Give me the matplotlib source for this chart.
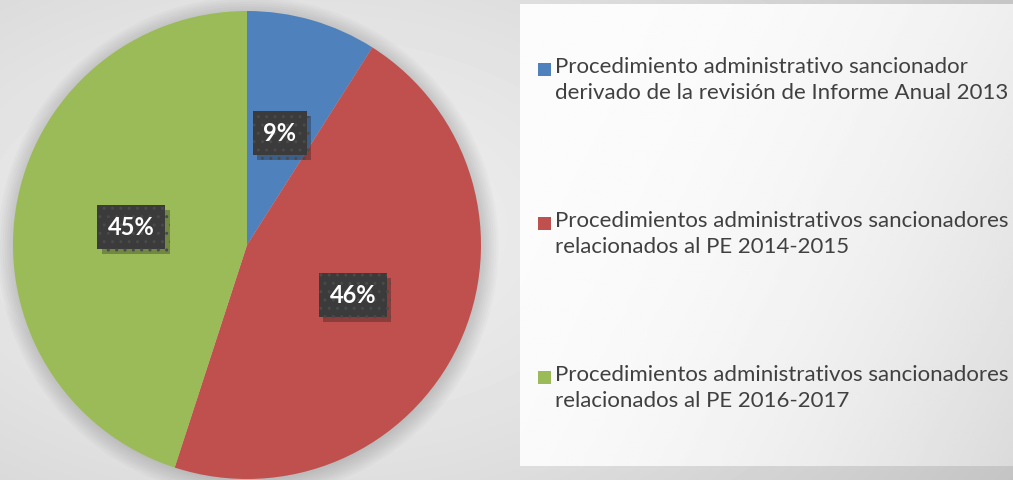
#!/usr/bin/env python3
"""Pie of procedimientos administrativos sancionadores by origin."""

import matplotlib
matplotlib.use('Agg')
from matplotlib import pyplot as plt
from matplotlib import patheffects as pe
from matplotlib.patches import Rectangle
import numpy as np

labels = [
    'Procedimiento administrativo sancionador\nderivado de la revisión de Informe Anual 2013',
    'Procedimientos administrativos sancionadores\nrelacionados al PE 2014-2015',
    'Procedimientos administrativos sancionadores\nrelacionados al PE 2016-2017',
]
shares = [9, 46, 45]
colors = ['#4F81BD', '#C0504D', '#9BBB59']

W, H = 1013, 481


def main():
    plt.rcParams['font.family'] = ['Lato', 'DejaVu Sans']
    fig = plt.figure(figsize=(W / 100, H / 100), dpi=100)

    # background: soft radial grey
    bg = fig.add_axes([0, 0, 1, 1])
    yy, xx = np.mgrid[0:H, 0:W]
    d = np.hypot((xx - 300) / 700.0, (yy - 230) / 420.0)
    img = 0.935 - 0.13 * np.clip(d, 0, 1.2) ** 1.5
    bg.imshow(img, cmap='gray', vmin=0, vmax=1, extent=[0, W, H, 0],
              interpolation='bilinear', aspect='auto')
    # legend panel with left-to-right gradient
    px = np.linspace(0, 1, 200)
    py = np.linspace(0, 1, 100)
    gx, gy = np.meshgrid(px, py)
    t = np.clip(0.75 * gx + 0.35 * gy - 0.15, 0, 1)
    panel = 0.985 - 0.14 * t ** 2
    bg.imshow(panel, cmap='gray', vmin=0, vmax=1, extent=[520, W, 467, 5],
              interpolation='bilinear', aspect='auto')
    bg.set_xlim(0, W)
    bg.set_ylim(H, 0)
    bg.axis('off')

    # pie
    cx, cy, r = 247, 246, 234
    ax = fig.add_axes([(cx - r) / W, (H - cy - r) / H, 2 * r / W, 2 * r / H])
    ax.patch.set_alpha(0)
    # faint shadow around the pie
    for k in range(8):
        ax.add_patch(plt.Circle((0.005, -0.01), 1.0 + 0.01 * k,
                                color='black', alpha=0.02, lw=0,
                                clip_on=False))
    wedges, _, autotexts = ax.pie(
        shares, colors=colors, startangle=90, counterclock=False,
        autopct='%d%%', pctdistance=0.5, radius=1.0,
        wedgeprops=dict(linewidth=0),
        textprops=dict(color='white', fontsize=17, fontweight='bold'))
    for t_ in autotexts:
        t_.set_bbox(dict(boxstyle='square,pad=0.45', facecolor='#3b3b3b',
                         edgecolor='#4a4a4a', hatch='..', linewidth=0))
        t_.get_bbox_patch().set_path_effects(
            [pe.SimplePatchShadow(offset=(3, -4), alpha=0.3), pe.Normal()])
    ax.set_xlim(-1, 1)
    ax.set_ylim(-1, 1)
    ax.set_aspect('equal')
    ax.axis('off')

    # legend entries
    for i, (lab, col) in enumerate(zip(labels, colors)):
        ytop = 57 + i * 154
        fig.patches.append(Rectangle((538 / W, 1 - (ytop + 20) / H), 13 / W,
                                     13 / H, transform=fig.transFigure,
                                     facecolor=col, edgecolor='none'))
        fig.text(555 / W, 1 - ytop / H, lab, ha='left', va='top',
                 fontsize=16, color='#404040', linespacing=1.35)

    fig.savefig('out.png', dpi=100)


if __name__ == '__main__':
    main()
